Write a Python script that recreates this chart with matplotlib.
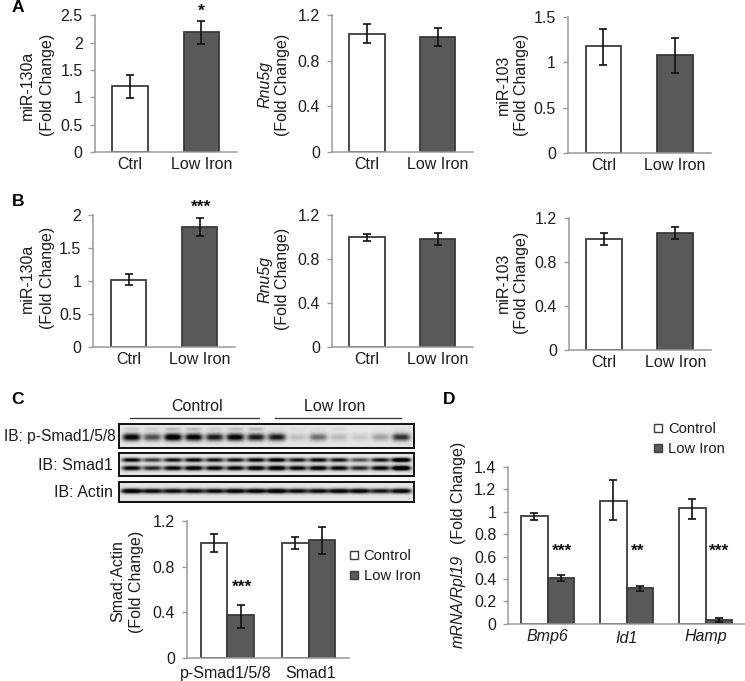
import numpy as np
import matplotlib
matplotlib.use("Agg")
import matplotlib.pyplot as plt
from matplotlib.lines import Line2D

plt.rcParams['font.family'] = ['Liberation Sans', 'DejaVu Sans']

W, H = 745, 681
TEXT = '#1c1c1c'
AXIS = '#9a9a9a'
EDGE = '#3c3c3c'
DARK = '#595959'
FS = 11.5

# data
small_cats = ['Ctrl', 'Low Iron']

a1_vals = [1.20, 2.19]
a1_lo = [0.98, 1.97]
a1_hi = [1.41, 2.39]

a2_vals = [1.03, 1.01]
a2_lo = [0.957, 0.928]
a2_hi = [1.12, 1.086]

a3_vals = [1.174, 1.08]
a3_lo = [0.97, 0.88]
a3_hi = [1.365, 1.27]

b1_vals = [1.02, 1.82]
b1_lo = [0.945, 1.687]
b1_hi = [1.11, 1.955]

b2_vals = [1.0, 0.988]
b2_lo = [0.97, 0.93]
b2_hi = [1.027, 1.04]

b3_vals = [1.015, 1.066]
b3_lo = [0.957, 1.012]
b3_hi = [1.07, 1.124]

c_cats = ['p-Smad1/5/8', 'Smad1']
c_ctrl = [1.004, 1.004]
c_ctrl_lo = [0.925, 0.952]
c_ctrl_hi = [1.083, 1.056]
c_low = [0.372, 1.033]
c_low_lo = [0.263, 0.913]
c_low_hi = [0.463, 1.15]

d_cats = ['Bmp6', 'Id1', 'Hamp']
d_ctrl = [0.965, 1.096, 1.03]
d_ctrl_lo = [0.926, 0.923, 0.938]
d_ctrl_hi = [0.992, 1.281, 1.11]
d_low = [0.411, 0.322, 0.03]
d_low_lo = [0.384, 0.295, 0.012]
d_low_hi = [0.438, 0.334, 0.054]

# blot band darkness per lane (14 lanes)
psmad_main = [1.1, 0.7, 1.2, 1.1, 0.95, 1.1, 0.95, 0.95, 0.18, 0.55, 0.2, 0.13, 0.3, 0.85]
psmad_upper = [0.12, 0.1, 0.2, 0.2, 0.12, 0.18, 0.2, 0.05, 0.05, 0.05, 0.05, 0.0, 0.0, 0.05]
smad_upper = [1.1, 0.8, 1.0, 1.1, 1.0, 1.0, 1.1, 1.2, 1.0, 1.1, 1.0, 0.7, 1.0, 1.5]
smad_lower = [1.1, 0.9, 1.1, 1.2, 1.1, 1.1, 1.2, 1.3, 1.1, 1.2, 1.1, 0.9, 1.1, 1.5]
actin_band = [1.3, 1.1, 1.1, 1.1, 1.1, 1.2, 1.2, 1.3, 1.1, 1.1, 1.2, 1.2, 1.0, 1.2]


def px_axes(x0, x1, y_top, y_base):
    return fig.add_axes([x0 / W, 1 - y_base / H, (x1 - x0) / W, (y_base - y_top) / H])


def px_text(x, y, s, **kw):
    kw.setdefault('fontsize', FS)
    kw.setdefault('color', TEXT)
    kw.setdefault('ha', 'center')
    kw.setdefault('va', 'center')
    return fig.text(x / W, 1 - y / H, s, **kw)


def style_axis(ax, ymax, yticks, yticklabels, pad=3.5):
    ax.set_ylim(0, ymax)
    ax.set_yticks(yticks)
    ax.set_yticklabels(yticklabels)
    for side in ['top', 'right']:
        ax.spines[side].set_visible(False)
    for side in ['left', 'bottom']:
        ax.spines[side].set_color(AXIS)
        ax.spines[side].set_linewidth(1.1)
    ax.tick_params(axis='y', length=3.6, width=1.0, color=AXIS, labelsize=FS, labelcolor=TEXT, pad=5)
    ax.tick_params(axis='x', length=0, labelsize=FS, labelcolor=TEXT, pad=pad)
    ax.patch.set_alpha(0)


def draw_bars(ax, x, vals, lo, hi, color, width):
    vals, lo, hi = np.array(vals), np.array(lo), np.array(hi)
    ax.bar(x, vals, width, color=color, edgecolor=EDGE, linewidth=1.3, zorder=2)
    ax.errorbar(x, vals, yerr=[vals - lo, hi - vals], fmt='none', ecolor='#111111',
                elinewidth=1.2, capsize=3, capthick=1.2, zorder=3)


def small_panel(x0, x1, y_top, y_base, vals, lo, hi, ymax, yticks, yticklabels):
    ax = px_axes(x0, x1, y_top, y_base)
    x = np.arange(2)
    draw_bars(ax, [x[0]], vals[:1], lo[:1], hi[:1], 'white', 0.5)
    draw_bars(ax, [x[1]], vals[1:], lo[1:], hi[1:], DARK, 0.5)
    ax.set_xlim(-0.5, 1.5)
    ax.set_xticks(x)
    ax.set_xticklabels(small_cats)
    style_axis(ax, ymax, yticks, yticklabels)
    return ax


def ylab(x1, x2, y, line1, italic=False):
    px_text(x1, y, line1, rotation=90, style='italic' if italic else 'normal')
    px_text(x2, y, '(Fold Change)', rotation=90)


def blot(x0, x1, y0, y1, bands):
    # bands: (darkness list, y position as fraction of panel height, half height px, half width px)
    n_y, n_x = int(y1 - y0) * 2, int(x1 - x0) * 2
    xx, yy = np.meshgrid(np.linspace(x0, x1, n_x), np.linspace(y0, y1, n_y))
    img = np.full(xx.shape, 0.0)
    centres = 131.7 + 20.77 * np.arange(14)
    for dark, frac, hh, hw in bands:
        yc = y0 + frac * (y1 - y0)
        for c, d in zip(centres, dark):
            img += d * np.exp(-((xx - c) / hw) ** 4 - ((yy - yc) / hh) ** 2)
    shade = 0.9 - np.clip(img, 0, 1) * 0.88
    ax = px_axes(x0, x1, y0, y1)
    ax.imshow(shade, cmap='gray', vmin=0, vmax=1, aspect='auto', interpolation='bilinear')
    ax.set_xticks([])
    ax.set_yticks([])
    for s in ax.spines.values():
        s.set_linewidth(1.4)
        s.set_color('#111111')


def legend_at(x, y, gap):
    handles = [
        Line2D([], [], ls='none', marker='s', ms=5.6, mfc='white', mec=EDGE, mew=1.0, label='Control'),
        Line2D([], [], ls='none', marker='s', ms=5.6, mfc=DARK, mec=EDGE, mew=1.0, label='Low Iron'),
    ]
    fig.legend(handles=handles, loc='upper left', bbox_to_anchor=(x / W, 1 - y / H), frameon=False,
               fontsize=10.6, handlelength=0.6, handletextpad=gap, labelspacing=0.42,
               borderpad=0, borderaxespad=0, labelcolor=TEXT, numpoints=1)


fig = plt.figure(figsize=(W / 100, H / 100), dpi=100, facecolor='white')

# A
small_panel(94.5, 237, 15.3, 152, a1_vals, a1_lo, a1_hi, 2.5, [0, 0.5, 1, 1.5, 2, 2.5],
            ['0', '0.5', '1', '1.5', '2', '2.5'])
small_panel(331.7, 473, 15, 152, a2_vals, a2_lo, a2_hi, 1.2, [0, 0.4, 0.8, 1.2], ['0', '0.4', '0.8', '1.2'])
small_panel(567.7, 710.7, 16.7, 153.3, a3_vals, a3_lo, a3_hi, 1.5, [0, 0.5, 1, 1.5], ['0', '0.5', '1', '1.5'])
ylab(27.3, 47.3, 85, 'miR-130a')
ylab(265, 283, 85, 'Rnu5g', italic=True)
ylab(503, 521.7, 85, 'miR-103')

# B
small_panel(93.3, 235, 215.3, 347.3, b1_vals, b1_lo, b1_hi, 2, [0, 0.5, 1, 1.5, 2], ['0', '0.5', '1', '1.5', '2'])
small_panel(331.7, 473, 215.3, 347.3, b2_vals, b2_lo, b2_hi, 1.2, [0, 0.4, 0.8, 1.2], ['0', '0.4', '0.8', '1.2'])
small_panel(568.7, 710.7, 218.3, 350, b3_vals, b3_lo, b3_hi, 1.2, [0, 0.4, 0.8, 1.2], ['0', '0.4', '0.8', '1.2'])
ylab(27.3, 47.3, 278, 'miR-130a')
ylab(265, 283, 279, 'Rnu5g', italic=True)
ylab(503.3, 521.7, 283, 'miR-103')

# C blots
blot(119.3, 414.3, 423.7, 447.7, [(psmad_main, 0.55, 3.8, 9.0), (psmad_upper, 0.2, 1.6, 8.0)])
blot(119.3, 414.3, 453.3, 475.7, [(smad_upper, 0.3, 2.1, 9.5), (smad_lower, 0.66, 2.4, 9.5)])
blot(119.3, 414.3, 482.3, 501.7, [(actin_band, 0.45, 2.4, 10.4)])
px_text(115.5, 436.7, 'IB: p-Smad1/5/8', ha='right', fontsize=11.2)
px_text(113, 465, 'IB: Smad1', ha='right')
px_text(113, 492.7, 'IB: Actin', ha='right')
px_text(196.7, 406.7, 'Control')
px_text(335, 406.7, 'Low Iron')
fig.add_artist(Line2D([130 / W, 259 / W], [1 - 418.3 / H] * 2, color='#333333', lw=0.9))
fig.add_artist(Line2D([275.3 / W, 400.7 / W], [1 - 418.3 / H] * 2, color='#333333', lw=0.9))

# C bars
ax_c = px_axes(186.7, 349.3, 521, 657.7)
xc = np.arange(2)
draw_bars(ax_c, xc - 0.165, c_ctrl, c_ctrl_lo, c_ctrl_hi, 'white', 0.33)
draw_bars(ax_c, xc + 0.165, c_low, c_low_lo, c_low_hi, DARK, 0.33)
ax_c.set_xlim(-0.5, 1.5)
ax_c.set_xticks([-0.02, 1.02])
ax_c.set_xticklabels(c_cats)
style_axis(ax_c, 1.2, [0, 0.4, 0.8, 1.2], ['0', '0.4', '0.8', '1.2'], pad=6)
ylab(117.3, 136.7, 581.5, 'Smad:Actin')
legend_at(350, 549, 0.32)

# D bars
ax_d = px_axes(508.3, 745, 467, 623.7)
xd = np.arange(3)
draw_bars(ax_d, xd - 0.168, d_ctrl, d_ctrl_lo, d_ctrl_hi, 'white', 0.335)
draw_bars(ax_d, xd + 0.168, d_low, d_low_lo, d_low_hi, DARK, 0.335)
ax_d.set_xlim(-0.5, 2.5)
ax_d.set_xticks(xd)
ax_d.set_xticklabels(d_cats, style='italic')
style_axis(ax_d, 1.4, [0, 0.2, 0.4, 0.6, 0.8, 1, 1.2, 1.4],
           ['0', '0.2', '0.4', '0.6', '0.8', '1', '1.2', '1.4'])
ax_d.xaxis.get_major_ticks()[1].set_pad(5)
px_text(458, 601.7, 'mRNA/Rpl19', rotation=90, style='italic')
px_text(458, 492.5, '(Fold Change)', rotation=90)
legend_at(654, 422, 0.36)

# significance marks
star_kw = dict(fontsize=12.5, fontweight='bold', color='#111111')
px_text(201, 11, '*', **star_kw)
px_text(201, 207, '***', **star_kw)
px_text(241.7, 587, '***', **star_kw)
px_text(561.7, 551, '***', **star_kw)
px_text(638, 551, '**', **star_kw)
px_text(719, 551, '***', **star_kw)

# panel letters
for lx, ly, letter in [(18, 8, 'A'), (18, 202, 'B'), (17, 399, 'C'), (449, 399, 'D')]:
    px_text(lx, ly, letter, fontsize=12.5, fontweight='bold', color='black')

fig.savefig('out.png', dpi=100, facecolor='white')
